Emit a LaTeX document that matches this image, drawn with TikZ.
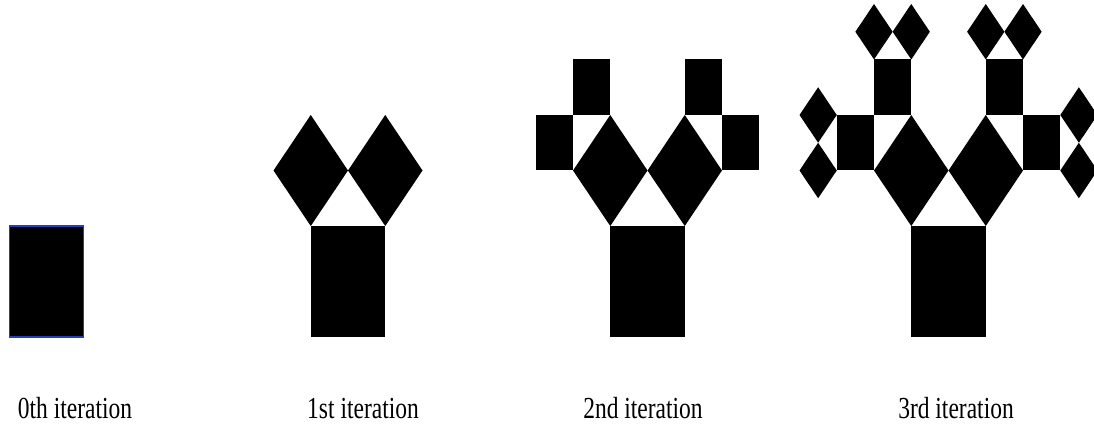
\documentclass[tikz,border=0pt]{standalone}
\usepackage{fontspec}
\setmainfont{Liberation Serif}
\definecolor{edgeblue}{RGB}{40,60,190}
\tikzset{
  lbl/.style={anchor=base,inner sep=0pt,font=\fontsize{23.5}{28}\selectfont},
  treepart/.style={x=74.5pt,y=111pt}
}
\newcommand\pdia[3]{\fill (#1-#3,#2) -- (#1,#2+#3) -- (#1+#3,#2) -- (#1,#2-#3) -- cycle;}
\newcommand\lvlone{\pdia{-0.5}{1.5}{0.5}}
\newcommand\lvltwo{\fill (-1.5,1.5) rectangle (-1,2); \fill (-1,2) rectangle (-0.5,2.5);}
\newcommand\lvlthree{\pdia{-1}{2.75}{0.25}\pdia{-0.5}{2.75}{0.25}\pdia{-1.75}{1.5}{0.25}\pdia{-1.75}{2}{0.25}}
\begin{document}
\begin{tikzpicture}
\useasboundingbox (0,0) rectangle (1094pt,428pt);
\clip (0,0) rectangle (1094pt,428pt);
% 0th iteration
\begin{scope}[shift={(46.5pt,91pt)},treepart]
  \fill[black,draw=edgeblue,line width=1.2pt] (-0.5,0) rectangle (0.5,1);
\end{scope}
% 1st iteration
\begin{scope}[shift={(348pt,91pt)},treepart]
  \fill (-0.5,0) rectangle (0.5,1);
  \lvlone
  \begin{scope}[xscale=-1]\lvlone\end{scope}
\end{scope}
% 2nd iteration
\begin{scope}[shift={(647.5pt,91pt)},treepart]
  \fill (-0.5,0) rectangle (0.5,1);
  \lvlone\lvltwo
  \begin{scope}[xscale=-1]\lvlone\lvltwo\end{scope}
\end{scope}
% 3rd iteration
\begin{scope}[shift={(948.5pt,91pt)},treepart]
  \fill (-0.5,0) rectangle (0.5,1);
  \lvlone\lvltwo\lvlthree
  \begin{scope}[xscale=-1]\lvlone\lvltwo\lvlthree\end{scope}
\end{scope}
% labels
\node[lbl] (l0) at (75pt,10pt) {\scalebox{1}[1.3]{0th iteration}};
\node[lbl] (l1) at (363pt,10pt) {\scalebox{1}[1.3]{1st iteration}};
\node[lbl] (l2) at (643pt,10pt) {\scalebox{1}[1.3]{2nd iteration}};
\node[lbl] (l3) at (956pt,10pt) {\scalebox{1}[1.3]{3rd iteration}};
\end{tikzpicture}
\end{document}
